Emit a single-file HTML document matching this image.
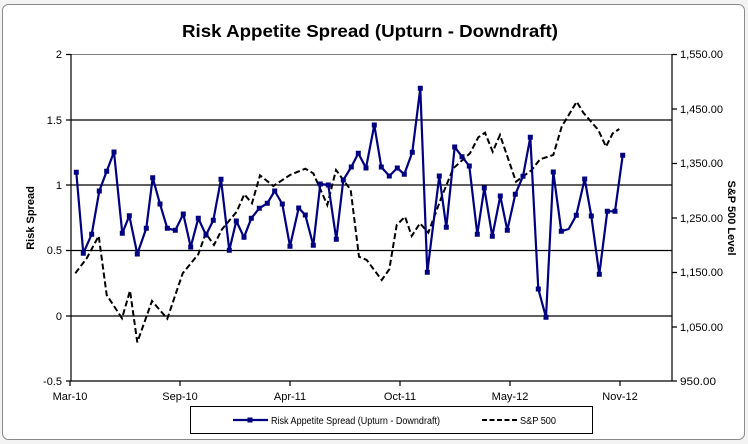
<!DOCTYPE html>
<html><head><meta charset="utf-8"><style>
html,body{margin:0;padding:0;background:#fff}
svg{display:block;font-family:"Liberation Sans",Arial,sans-serif}
</style></head><body>
<svg width="748" height="444" viewBox="0 0 748 444" xmlns="http://www.w3.org/2000/svg">
<rect x="0" y="0" width="748" height="444" fill="#f3f3f3"/>
<rect x="2.5" y="4.5" width="742" height="435" rx="6" fill="#fff" stroke="#8a8a8a"/>
<text x="370" y="37" text-anchor="middle" font-size="17.5" font-weight="bold" textLength="376" lengthAdjust="spacingAndGlyphs">Risk Appetite Spread (Upturn - Downdraft)</text>
<g stroke="#000" stroke-width="1.2">
<line x1="71" y1="120" x2="672" y2="120"/>
<line x1="71" y1="185" x2="672" y2="185"/>
<line x1="71" y1="250.5" x2="672" y2="250.5"/>
<line x1="71" y1="316" x2="672" y2="316"/>
</g>
<line x1="71" y1="54.5" x2="672" y2="54.5" stroke="#808080" stroke-width="1"/>
<g stroke="#000" stroke-width="1.2" fill="none">
<line x1="71" y1="54" x2="71" y2="381"/>
<line x1="672" y1="54" x2="672" y2="381"/>
<line x1="71" y1="381" x2="672" y2="381"/>
<path d="M66 54.5H71M66 120H71M66 185H71M66 250.5H71M66 316H71M66 381H71"/>
<path d="M672 54.5H677M672 109H677M672 163.5H677M672 218H677M672 272.5H677M672 327H677M672 381H677"/>
<path d="M70 381V386M180 381V386M290 381V386M400 381V386M510 381V386M620 381V386"/>
</g>
<g font-size="11" text-anchor="end">
<text x="62" y="58">2</text><text x="62" y="124">1.5</text><text x="62" y="189">1</text>
<text x="62" y="254">0.5</text><text x="62" y="320">0</text><text x="62" y="385">-0.5</text>
</g>
<g font-size="11">
<text x="680" y="58" textLength="43" lengthAdjust="spacingAndGlyphs">1,550.00</text><text x="680" y="113" textLength="43" lengthAdjust="spacingAndGlyphs">1,450.00</text><text x="680" y="167" textLength="43" lengthAdjust="spacingAndGlyphs">1,350.00</text>
<text x="680" y="222" textLength="43" lengthAdjust="spacingAndGlyphs">1,250.00</text><text x="680" y="276" textLength="43" lengthAdjust="spacingAndGlyphs">1,150.00</text><text x="680" y="331" textLength="43" lengthAdjust="spacingAndGlyphs">1,050.00</text>
<text x="680" y="385" textLength="36" lengthAdjust="spacingAndGlyphs">950.00</text>
</g>
<g font-size="11" text-anchor="middle">
<text x="70" y="400">Mar-10</text><text x="180" y="400">Sep-10</text><text x="290" y="400">Apr-11</text>
<text x="400" y="400">Oct-11</text><text x="510" y="400">May-12</text><text x="620" y="400">Nov-12</text>
</g>
<text transform="translate(34,218) rotate(-90)" font-size="11" font-weight="bold" text-anchor="middle">Risk Spread</text>
<text transform="translate(728,218) rotate(90)" font-size="11" font-weight="bold" text-anchor="middle">S&amp;P 500 Level</text>
<polyline fill="none" stroke="#000" stroke-width="2" stroke-dasharray="6,3" points="75.3,273.3 86.7,258.3 98.7,236 106.7,295 122,318.3 130,290.7 137.3,342.3 152,301 167.3,318.7 182.7,273.3 198.3,254.3 205.7,233.3 214,245 222,229.3 236.7,211.7 244.3,194.3 252,203.3 260,175.3 273.3,186 290,175 305.3,168.7 313.3,173.3 327.3,205 336,170 350.7,190 359,256.7 366.7,260 381.7,280 389.3,269.3 396.7,225 405,216.7 411.7,236 420,223.3 428.3,232.7 441.7,196.7 453.3,168.3 470,153.3 478.3,137.3 485,132.7 492.7,151.7 500,135 516,181.7 531.7,170 540,159.3 553.3,155 561.7,126.7 576.7,101.7 583.3,112.7 598.3,130 606,146.7 612.7,133.3 619.3,129"/>
<polyline fill="none" stroke="#000080" stroke-width="2.2" stroke-linejoin="round" points="76.3,172.3 83.3,253.3 91.7,234.3 99.3,191 106.7,171.3 114,152 122.3,233.3 129.3,215.7 137.3,254 146.3,228.3 152.7,177.7 160,204 167.3,228.3 175.3,230.3 183.3,214 190.7,247 198.3,218.3 206,235 213.3,220.3 221,179.3 229.3,250.3 236.3,221 244,237.3 251.3,218.3 259.3,208.3 267.3,203.3 274.7,191 282.3,204 290,246.3 298.7,208 305.3,215 313.3,245.3 320.3,184 328.3,185 336.3,239.3 343.3,180 351.3,167 358.3,153.3 366,168 374.3,125 381.3,167 389.3,176 397.3,168 404.3,174.3 412.3,152.3 420.3,88.3 427.3,272.3 439.3,176 446.3,227.3 454.7,147 462,156.7 469.3,166 477.3,234.3 484.3,188 492.3,236.3 500.3,196 507.3,230.3 515.3,194.3 523,176.3 530.3,137.3 538.3,289 546,317.3 553.3,172 561.3,231.3 568.7,229 576.3,215.3 584.7,179 591.3,216 599.3,274.3 607.3,211.3 615,211.3 622.7,155.3"/>
<g fill="#000080">
<path d="M73.8 169.8h5v5h-5zM80.8 250.8h5v5h-5zM89.2 231.8h5v5h-5zM96.8 188.5h5v5h-5zM104.2 168.8h5v5h-5zM111.5 149.5h5v5h-5zM119.8 230.8h5v5h-5zM126.8 213.2h5v5h-5zM134.8 251.5h5v5h-5zM143.8 225.8h5v5h-5zM150.2 175.2h5v5h-5zM157.5 201.5h5v5h-5zM164.8 225.8h5v5h-5zM172.8 227.8h5v5h-5zM180.8 211.5h5v5h-5zM188.2 244.5h5v5h-5zM195.8 215.8h5v5h-5zM203.5 232.5h5v5h-5zM210.8 217.8h5v5h-5zM218.5 176.8h5v5h-5zM226.8 247.8h5v5h-5zM233.8 218.5h5v5h-5zM241.5 234.8h5v5h-5zM248.8 215.8h5v5h-5zM256.8 205.8h5v5h-5zM264.8 200.8h5v5h-5zM272.2 188.5h5v5h-5zM279.8 201.5h5v5h-5zM287.5 243.8h5v5h-5zM296.2 205.5h5v5h-5zM302.8 212.5h5v5h-5zM310.8 242.8h5v5h-5zM317.8 181.5h5v5h-5zM325.8 182.5h5v5h-5zM333.8 236.8h5v5h-5zM340.8 177.5h5v5h-5zM348.8 164.5h5v5h-5zM355.8 150.8h5v5h-5zM363.5 165.5h5v5h-5zM371.8 122.5h5v5h-5zM378.8 164.5h5v5h-5zM386.8 173.5h5v5h-5zM394.8 165.5h5v5h-5zM401.8 171.8h5v5h-5zM409.8 149.8h5v5h-5zM417.8 85.8h5v5h-5zM424.8 269.8h5v5h-5zM436.8 173.5h5v5h-5zM443.8 224.8h5v5h-5zM452.2 144.5h5v5h-5zM459.5 154.2h5v5h-5zM466.8 163.5h5v5h-5zM474.8 231.8h5v5h-5zM481.8 185.5h5v5h-5zM489.8 233.8h5v5h-5zM497.8 193.5h5v5h-5zM504.8 227.8h5v5h-5zM512.8 191.8h5v5h-5zM520.5 173.8h5v5h-5zM527.8 134.8h5v5h-5zM535.8 286.5h5v5h-5zM543.5 314.8h5v5h-5zM550.8 169.5h5v5h-5zM558.8 228.8h5v5h-5zM573.8 212.8h5v5h-5zM582.2 176.5h5v5h-5zM588.8 213.5h5v5h-5zM596.8 271.8h5v5h-5zM604.8 208.8h5v5h-5zM612.5 208.8h5v5h-5zM620.2 152.8h5v5h-5z"/>
</g>
<rect x="190.5" y="406.5" width="402" height="27" fill="#fff" stroke="#000"/>
<line x1="233" y1="420" x2="268" y2="420" stroke="#000080" stroke-width="2.2"/>
<rect x="247.5" y="417.5" width="5" height="5" fill="#000080"/>
<text x="271" y="424" font-size="10" textLength="169" lengthAdjust="spacingAndGlyphs">Risk Appetite Spread (Upturn - Downdraft)</text>
<line x1="482" y1="420" x2="519" y2="420" stroke="#000" stroke-width="2" stroke-dasharray="5,2.5"/>
<text x="520" y="424" font-size="10" textLength="36" lengthAdjust="spacingAndGlyphs">S&amp;P 500</text>
</svg>
</body></html>
